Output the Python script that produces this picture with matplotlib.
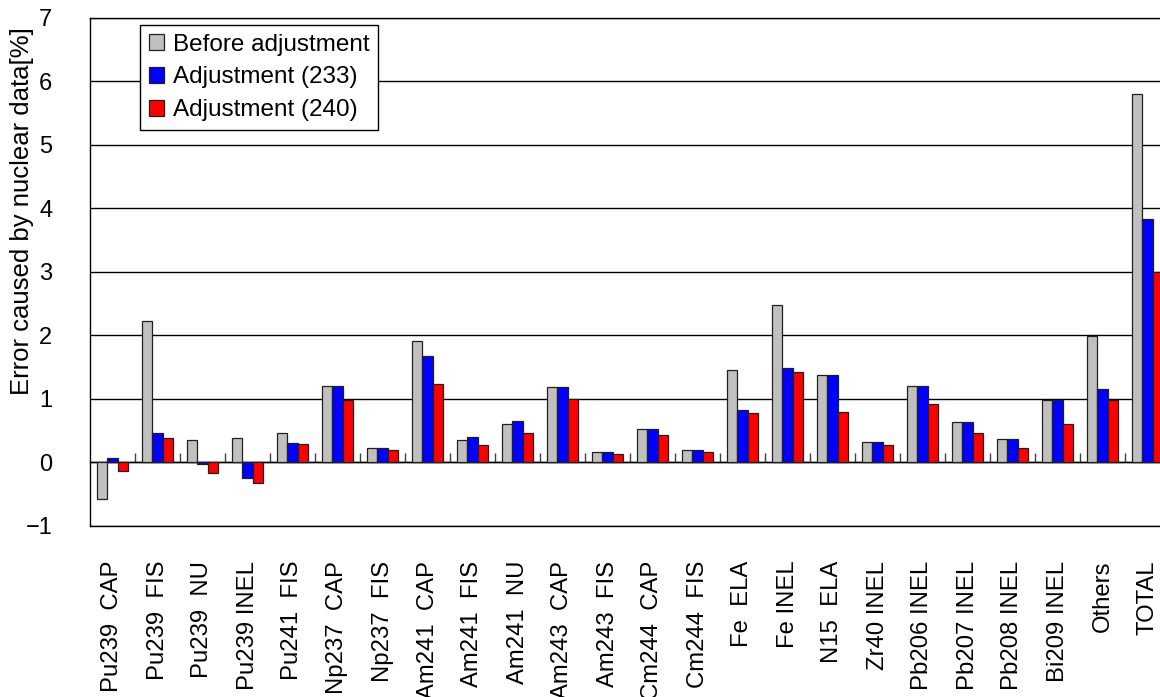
import matplotlib
matplotlib.use("Agg")
import matplotlib.pyplot as plt
import numpy as np

plt.rcParams['font.family'] = ['Liberation Sans', 'DejaVu Sans']

categories = ["Pu239  CAP", "Pu239  FIS", "Pu239  NU", "Pu239 INEL", "Pu241  FIS",
              "Np237  CAP", "Np237  FIS", "Am241  CAP", "Am241  FIS", "Am241  NU",
              "Am243  CAP", "Am243  FIS", "Cm244  CAP", "Cm244  FIS", "Fe  ELA",
              "Fe INEL", "N15  ELA", "Zr40 INEL", "Pb206 INEL", "Pb207 INEL",
              "Pb208 INEL", "Bi209 INEL", "Others", "TOTAL"]
before = [-0.58, 2.22, 0.35, 0.38, 0.47, 1.20, 0.22, 1.91, 0.35, 0.60, 1.18, 0.17,
          0.53, 0.20, 1.45, 2.48, 1.38, 0.32, 1.21, 0.63, 0.37, 0.98, 1.99, 5.80]
adj233 = [0.07, 0.47, -0.03, -0.25, 0.31, 1.20, 0.22, 1.67, 0.40, 0.65, 1.18, 0.17,
          0.53, 0.20, 0.82, 1.49, 1.38, 0.32, 1.21, 0.63, 0.37, 0.98, 1.15, 3.83]
adj240 = [-0.14, 0.38, -0.16, -0.33, 0.29, 0.98, 0.20, 1.23, 0.28, 0.47, 1.00, 0.13,
          0.43, 0.16, 0.77, 1.42, 0.80, 0.28, 0.92, 0.47, 0.22, 0.61, 0.98, 2.99]
series_labels = ["Before adjustment", "Adjustment (233)", "Adjustment (240)"]
colors = ["#c0c0c0", "#0000ff", "#ff0000"]
yticks = [-1, 0, 1, 2, 3, 4, 5, 6, 7]

fig = plt.figure(figsize=(11.6, 6.97), dpi=100)
ax = fig.add_axes([90 / 1160, 1 - 526 / 697, 1080 / 1160, 508.5 / 697])

x = np.arange(len(categories))
w = 0.23
for i, (vals, lab, c) in enumerate(zip([before, adj233, adj240], series_labels, colors)):
    ax.bar(x + (i - 1) * w, vals, w, color=c, edgecolor="#202020", linewidth=0.9,
           label=lab, zorder=3)

ax.set_xlim(-0.5, len(categories) - 0.5)
ax.set_ylim(yticks[0], yticks[-1])
ax.set_yticks(yticks)
ax.set_yticklabels([str(t).replace("-", "\u2212") for t in yticks])
ax.yaxis.grid(True, color="black", linewidth=1.0, zorder=0)
ax.set_axisbelow(True)
ax.tick_params(axis="y", length=0, pad=27, labelsize=17)

ax.set_xticks(x)
ax.set_xticklabels(categories, rotation=90, fontsize=17.2)
ax.tick_params(axis="x", length=0, pad=25)

for s in ["left", "bottom", "top"]:
    ax.spines[s].set_linewidth(1.0)
ax.spines["right"].set_visible(False)

# zero line with small ticks between categories
zero = (0 - yticks[0]) / (yticks[-1] - yticks[0])
sec = ax.secondary_xaxis(zero)
sec.set_xticks(np.arange(len(categories) - 1) + 0.5)
sec.set_xticklabels([])
sec.tick_params(direction="in", length=6.5, width=1.0, color="#404040")
sec.spines["bottom"].set_linewidth(1.0)

ax.set_ylabel("Error caused by nuclear data[%]", fontsize=18.5)
ax.yaxis.set_label_coords(-0.052, 0.62)

leg = ax.legend(loc="upper left", bbox_to_anchor=(50 / 1080, (526 - 25) / 508.5),
                borderaxespad=0, fancybox=False, edgecolor="black", framealpha=1,
                fontsize=17.5, handlelength=0.65, handleheight=0.65, handletextpad=0.35,
                labelspacing=0.45, borderpad=0.35)
leg.get_frame().set_linewidth(1.0)

plt.savefig("out.png", dpi=100)
